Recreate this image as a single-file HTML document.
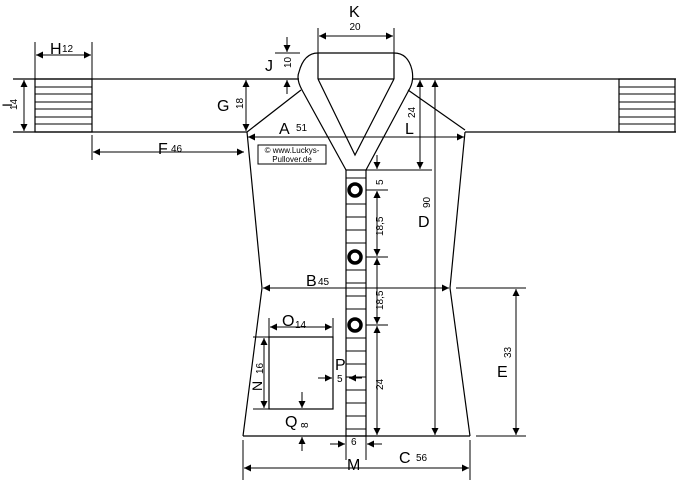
<!DOCTYPE html>
<html><head><meta charset="utf-8"><style>
html,body{margin:0;padding:0;background:#fff}
svg{display:block}
text{font-family:"Liberation Sans",Arial,sans-serif;fill:#000}
</style></head><body>
<svg width="676" height="480" viewBox="0 0 676 480" xmlns="http://www.w3.org/2000/svg">
<defs>
<marker id="a" viewBox="0 0 10 10" refX="10" refY="5" markerWidth="9" markerHeight="7" orient="auto-start-reverse" markerUnits="userSpaceOnUse"><path d="M0,0 L10,5 L0,10 z" fill="#000"/></marker>
</defs>
<g stroke="#000" stroke-width="1.2" fill="none">
<line x1="13" y1="79" x2="299" y2="79"/>
<line x1="413" y1="79" x2="676" y2="79"/>
<line x1="13" y1="132" x2="247" y2="132"/>
<line x1="465" y1="132" x2="676" y2="132"/>
<rect x="35" y="79" width="57" height="53"/>
<rect x="619" y="79" width="56" height="53"/>
<g stroke-width="1">
<line x1="35" y1="87" x2="92" y2="87"/><line x1="35" y1="94" x2="92" y2="94"/><line x1="35" y1="102" x2="92" y2="102"/><line x1="35" y1="109" x2="92" y2="109"/><line x1="35" y1="117" x2="92" y2="117"/><line x1="35" y1="124" x2="92" y2="124"/>
<line x1="619" y1="87" x2="675" y2="87"/><line x1="619" y1="94" x2="675" y2="94"/><line x1="619" y1="102" x2="675" y2="102"/><line x1="619" y1="109" x2="675" y2="109"/><line x1="619" y1="117" x2="675" y2="117"/><line x1="619" y1="124" x2="675" y2="124"/>
</g>
<polyline points="247,132 262,288 243,436"/>
<polyline points="465,132 450,288 470,436"/>
<line x1="243" y1="436" x2="470" y2="436"/>
<line x1="301" y1="90" x2="247" y2="132"/>
<line x1="408" y1="90" x2="465" y2="130"/>
<path d="M346,170 L302,90 Q296,79 299,72 Q304,53 318,53 L394,53 Q408,53 412,70 Q414,80 410,88 L366,170"/>
<line x1="318" y1="53" x2="318" y2="79"/>
<line x1="394" y1="53" x2="394" y2="79"/>
<polyline points="318,79 394,79"/>
<polyline points="318,79 355,155 394,79"/>
<rect x="346" y="170" width="20" height="266"/>
<g stroke-width="1">
<line x1="346" y1="178" x2="366" y2="178"/><line x1="346" y1="204" x2="366" y2="204"/><line x1="346" y1="217" x2="366" y2="217"/><line x1="346" y1="230" x2="366" y2="230"/><line x1="346" y1="243" x2="366" y2="243"/><line x1="346" y1="270" x2="366" y2="270"/><line x1="346" y1="283" x2="366" y2="283"/><line x1="346" y1="296" x2="366" y2="296"/><line x1="346" y1="309" x2="366" y2="309"/><line x1="346" y1="338" x2="366" y2="338"/><line x1="346" y1="351" x2="366" y2="351"/><line x1="346" y1="364" x2="366" y2="364"/><line x1="346" y1="377" x2="366" y2="377"/><line x1="346" y1="390" x2="366" y2="390"/><line x1="346" y1="403" x2="366" y2="403"/><line x1="346" y1="416" x2="366" y2="416"/><line x1="346" y1="429" x2="366" y2="429"/>
</g>
<rect x="269" y="337" width="64" height="72"/>
</g>
<g fill="#fff" stroke="#000" stroke-width="3.5">
<circle cx="355" cy="190" r="6"/><circle cx="355" cy="257" r="6"/><circle cx="355" cy="325" r="6"/>
</g>
<g stroke="#000" stroke-width="1" fill="none">
<line x1="318" y1="28" x2="318" y2="53"/><line x1="394" y1="28" x2="394" y2="53"/>
<line x1="319" y1="36" x2="393" y2="36" marker-start="url(#a)" marker-end="url(#a)"/>
<line x1="287" y1="37" x2="287" y2="52" marker-end="url(#a)"/>
<line x1="287" y1="94" x2="287" y2="80" marker-end="url(#a)"/>
<line x1="275" y1="53" x2="300" y2="53"/>
<line x1="246" y1="80" x2="246" y2="131" marker-start="url(#a)" marker-end="url(#a)"/>
<line x1="248" y1="137" x2="464" y2="137" marker-start="url(#a)" marker-end="url(#a)"/>
<line x1="420" y1="80" x2="420" y2="169" marker-start="url(#a)" marker-end="url(#a)"/>
<line x1="366" y1="170" x2="432" y2="170"/>
<line x1="435" y1="80" x2="435" y2="435" marker-start="url(#a)" marker-end="url(#a)"/>
<line x1="377" y1="155" x2="377" y2="169" marker-end="url(#a)"/>
<line x1="377" y1="201" x2="377" y2="191" marker-end="url(#a)"/>
<line x1="366" y1="190" x2="388" y2="190"/>
<line x1="377" y1="191" x2="377" y2="256" marker-start="url(#a)" marker-end="url(#a)"/>
<line x1="366" y1="257" x2="388" y2="257"/>
<line x1="377" y1="258" x2="377" y2="324" marker-start="url(#a)" marker-end="url(#a)"/>
<line x1="366" y1="325" x2="388" y2="325"/>
<line x1="377" y1="326" x2="377" y2="435" marker-start="url(#a)" marker-end="url(#a)"/>
<line x1="263" y1="288" x2="449" y2="288" marker-start="url(#a)" marker-end="url(#a)"/>
<line x1="456" y1="288" x2="526" y2="288"/>
<line x1="476" y1="436" x2="526" y2="436"/>
<line x1="516" y1="289" x2="516" y2="435" marker-start="url(#a)" marker-end="url(#a)"/>
<line x1="243" y1="440" x2="243" y2="480"/><line x1="470" y1="440" x2="470" y2="480"/>
<line x1="244" y1="468" x2="469" y2="468" marker-start="url(#a)" marker-end="url(#a)"/>
<line x1="346" y1="436" x2="346" y2="460"/><line x1="366" y1="436" x2="366" y2="460"/>
<line x1="330" y1="444" x2="345" y2="444" marker-end="url(#a)"/>
<line x1="382" y1="444" x2="367" y2="444" marker-end="url(#a)"/>
<line x1="93" y1="152" x2="244" y2="152" marker-start="url(#a)" marker-end="url(#a)"/>
<line x1="92" y1="135" x2="92" y2="160"/>
<line x1="35" y1="42" x2="35" y2="79"/><line x1="92" y1="42" x2="92" y2="79"/>
<line x1="36" y1="55" x2="91" y2="55" marker-start="url(#a)" marker-end="url(#a)"/>
<line x1="24" y1="80" x2="24" y2="131" marker-start="url(#a)" marker-end="url(#a)"/>
<line x1="269" y1="318" x2="269" y2="337"/><line x1="333" y1="318" x2="333" y2="337"/>
<line x1="270" y1="327" x2="332" y2="327" marker-start="url(#a)" marker-end="url(#a)"/>
<line x1="253" y1="337" x2="269" y2="337"/><line x1="253" y1="409" x2="269" y2="409"/>
<line x1="264" y1="338" x2="264" y2="408" marker-start="url(#a)" marker-end="url(#a)"/>
<line x1="318" y1="378" x2="332" y2="378" marker-end="url(#a)"/>
<line x1="362" y1="378" x2="349" y2="378" marker-end="url(#a)"/>
<line x1="302" y1="392" x2="302" y2="408" marker-end="url(#a)"/>
<line x1="302" y1="451" x2="302" y2="437" marker-end="url(#a)"/>
</g>
<rect x="258" y="145" width="68" height="19" fill="#fff" stroke="#000" stroke-width="1"/>
<text x="292" y="153" font-size="8" text-anchor="middle">© www.Luckys-</text>
<text x="292" y="162" font-size="8" text-anchor="middle">Pullover.de</text>
<g font-size="16">
<text x="349" y="17">K</text>
<text x="265" y="71">J</text>
<text x="217" y="111">G</text>
<text x="279" y="134">A</text>
<text x="405" y="134">L</text>
<text x="418" y="227">D</text>
<text x="306" y="286">B</text>
<text x="497" y="377">E</text>
<text x="399" y="463">C</text>
<text x="347" y="470">M</text>
<text x="158" y="154">F</text>
<text x="50" y="54">H</text>
<text x="282" y="326">O</text>
<text x="335" y="370">P</text>
<text x="285" y="427">Q</text>
</g>
<g font-size="10">
<text x="355" y="30" text-anchor="middle">20</text>
<text x="296" y="131">51</text>
<text x="318" y="285">45</text>
<text x="416" y="461">56</text>
<text x="171" y="152">46</text>
<text x="62" y="52">12</text>
<text x="295" y="328">14</text>
<text x="337" y="382">5</text>
<text x="351" y="445">6</text>
<text transform="translate(291,68) rotate(-90)">10</text>
<text transform="translate(243,109) rotate(-90)">18</text>
<text transform="translate(415,118) rotate(-90)">24</text>
<text transform="translate(430,208) rotate(-90)">90</text>
<text transform="translate(511,358) rotate(-90)">33</text>
<text transform="translate(383,185) rotate(-90)">5</text>
<text transform="translate(383,236) rotate(-90)">18,5</text>
<text transform="translate(383,310) rotate(-90)">18,5</text>
<text transform="translate(383,390) rotate(-90)">24</text>
<text transform="translate(17,110) rotate(-90)">14</text>
<text transform="translate(263,374) rotate(-90)">16</text>
<text transform="translate(308,428) rotate(-90)">8</text>
</g>
<text transform="translate(12,107) rotate(-90)" font-size="14">I</text>
<text transform="translate(262,391) rotate(-90)" font-size="14">N</text>
</svg>
</body></html>
